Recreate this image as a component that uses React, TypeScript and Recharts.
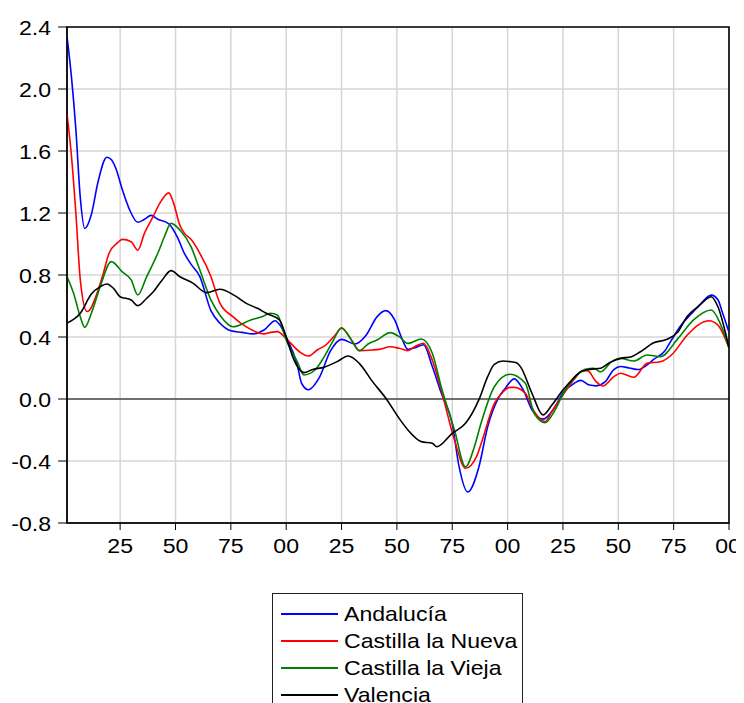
import {
  LineChart,
  Line,
  XAxis,
  YAxis,
  CartesianGrid,
  ReferenceLine,
  ReferenceArea,
} from "recharts";

const andaluciaYears = [
  1701, 1703, 1705, 1707, 1709, 1712, 1715, 1719, 1721, 1723, 1726, 1729, 1733, 1736, 1739, 1742,
  1747, 1751, 1754, 1757, 1761, 1766, 1770, 1775, 1780, 1785, 1790, 1795, 1797, 1800, 1805, 1807,
  1810, 1815, 1820, 1825, 1831, 1836, 1841, 1845, 1849, 1852, 1855, 1858, 1862, 1866, 1870, 1875,
  1878, 1882, 1887, 1891, 1896, 1899, 1903, 1907, 1911, 1916, 1921, 1925, 1930, 1933, 1937, 1940,
  1944, 1948, 1951, 1955, 1959, 1963, 1966, 1971, 1974, 1978, 1983, 1987, 1992, 1995, 1997, 2000,
];
const andaluciaValues = [
  2.34, 2.08, 1.74, 1.3, 1.1, 1.19, 1.4, 1.56, 1.545, 1.49, 1.35, 1.23, 1.14, 1.16, 1.185, 1.16,
  1.13, 1.04, 0.94, 0.87, 0.79, 0.57, 0.49, 0.44, 0.43, 0.42, 0.445, 0.505, 0.48, 0.4, 0.22, 0.1,
  0.06, 0.14, 0.31, 0.385, 0.355, 0.41, 0.53, 0.57, 0.51, 0.4, 0.32, 0.33, 0.35, 0.21, 0.04, -0.16,
  -0.43, -0.6, -0.44, -0.18, 0.01, 0.07, 0.13, 0.06, -0.07, -0.13, -0.06, 0.04, 0.1, 0.12, 0.09, 0.085,
  0.11, 0.19, 0.21, 0.2, 0.19, 0.22, 0.255, 0.31, 0.38, 0.47, 0.55, 0.61, 0.67, 0.64, 0.56, 0.43,
];

const nuevaYears = [
  1701, 1703, 1705, 1707, 1710, 1711, 1714, 1717, 1720, 1724, 1726, 1730, 1733, 1736, 1740, 1743,
  1747, 1749, 1752, 1754, 1757, 1761, 1766, 1770, 1776, 1782, 1790, 1793, 1796, 1800, 1806, 1810,
  1814, 1818, 1822, 1825, 1830, 1833, 1839, 1842, 1847, 1851, 1855, 1858, 1862, 1866, 1870, 1876,
  1881, 1886, 1888, 1894, 1898, 1901, 1903, 1908, 1912, 1917, 1920, 1925, 1931, 1933, 1936, 1940,
  1943, 1948, 1951, 1957, 1963, 1969, 1974, 1981, 1986, 1991, 1995, 2000,
];
const nuevaValues = [
  1.84, 1.57, 1.2, 0.77, 0.565, 0.57, 0.66, 0.79, 0.94, 1.01, 1.03, 1.015, 0.96, 1.07, 1.18, 1.265,
  1.33, 1.27, 1.12, 1.07, 1.03, 0.94, 0.79, 0.62, 0.53, 0.465, 0.42, 0.43, 0.435, 0.39, 0.305, 0.277,
  0.316, 0.35, 0.41, 0.456, 0.37, 0.312, 0.316, 0.32, 0.337, 0.327, 0.312, 0.337, 0.36, 0.25, 0.06, -0.265,
  -0.447, -0.37, -0.29, -0.03, 0.047, 0.075, 0.075, 0.037, -0.08, -0.146, -0.08, 0.026, 0.144, 0.176, 0.183, 0.112,
  0.084, 0.144, 0.166, 0.14, 0.23, 0.24, 0.284, 0.41, 0.477, 0.505, 0.477, 0.33,
];

const viejaYears = [
  1701, 1704, 1707, 1709, 1712, 1716, 1721, 1726, 1730, 1733, 1737, 1742, 1745, 1748, 1752, 1757,
  1761, 1766, 1770, 1776, 1784, 1789, 1793, 1796, 1800, 1805, 1808, 1813, 1817, 1821, 1825, 1829,
  1833, 1837, 1841, 1847, 1851, 1855, 1861, 1866, 1870, 1876, 1881, 1885, 1888, 1894, 1901, 1908,
  1912, 1917, 1921, 1926, 1930, 1935, 1939, 1942, 1947, 1951, 1957, 1963, 1969, 1977, 1984, 1992,
  1996, 2000,
];
const viejaValues = [
  0.79, 0.68, 0.53, 0.462, 0.553, 0.725, 0.886, 0.82, 0.768, 0.671, 0.789, 0.94, 1.047, 1.133, 1.09, 0.983,
  0.832, 0.639, 0.542, 0.466, 0.51, 0.531, 0.553, 0.542, 0.381, 0.241, 0.155, 0.187, 0.269, 0.37, 0.46, 0.391,
  0.312, 0.355, 0.381, 0.428, 0.402, 0.359, 0.387, 0.295, 0.079, -0.2, -0.437, -0.308, -0.157, 0.079, 0.16, 0.101,
  -0.092, -0.153, -0.082, 0.058, 0.133, 0.191, 0.198, 0.176, 0.241, 0.262, 0.245, 0.284, 0.273, 0.391, 0.51, 0.574,
  0.488, 0.33,
];

const valenciaYears = [
  1701, 1707, 1712, 1716, 1719, 1722, 1725, 1730, 1733, 1737, 1740, 1744, 1748, 1752, 1758, 1764,
  1770, 1777, 1782, 1787, 1791, 1797, 1800, 1803, 1806, 1808, 1812, 1817, 1823, 1828, 1833, 1839,
  1845, 1851, 1855, 1861, 1866, 1868, 1875, 1881, 1887, 1891, 1894, 1898, 1901, 1904, 1906, 1911,
  1916, 1920, 1925, 1929, 1933, 1937, 1942, 1946, 1951, 1956, 1960, 1966, 1972, 1977, 1981, 1986,
  1992, 1995, 2000,
];
const valenciaValues = [
  0.49, 0.553, 0.677, 0.725, 0.742, 0.714, 0.66, 0.639, 0.602, 0.65, 0.692, 0.768, 0.828, 0.789, 0.746, 0.686,
  0.708, 0.665, 0.617, 0.585, 0.553, 0.51, 0.4, 0.27, 0.19, 0.17, 0.191, 0.204, 0.241, 0.277, 0.23, 0.112,
  0.005, -0.125, -0.2, -0.275, -0.286, -0.308, -0.221, -0.157, -0.006, 0.144, 0.224, 0.245, 0.241, 0.234, 0.204, 0.037,
  -0.103, -0.039, 0.058, 0.123, 0.176, 0.191, 0.198, 0.234, 0.262, 0.273, 0.305, 0.363, 0.385, 0.434, 0.531, 0.595,
  0.66, 0.595, 0.33,
];

const xTicks = [1725, 1750, 1775, 1800, 1825, 1850, 1875, 1900, 1925, 1950, 1975, 2000];
const yTicks = [-0.8, -0.4, 0, 0.4, 0.8, 1.2, 1.6, 2.0, 2.4];

const toPoints = (years: number[], values: number[]) =>
  years.map((year, i) => ({ year, value: values[i] }));

const series = [
  { name: "Andalucía", color: "#0000ff", data: toPoints(andaluciaYears, andaluciaValues) },
  { name: "Castilla la Nueva", color: "#ff0000", data: toPoints(nuevaYears, nuevaValues) },
  { name: "Castilla la Vieja", color: "#008000", data: toPoints(viejaYears, viejaValues) },
  { name: "Valencia", color: "#000000", data: toPoints(valenciaYears, valenciaValues) },
];

const font = "'Liberation Sans', Arial, sans-serif";

// tick text drawn a bit wider than the font, like the original export
const WideTick = (props: any) => {
  const { x, y, payload, anchor, dy, fmt } = props;
  return (
    <g transform={`translate(${x},${y})`}>
      <text
        transform="scale(1.1,1)"
        textAnchor={anchor}
        dy={dy}
        fill="#000"
        fontSize={21}
        fontFamily={font}
      >
        {fmt(payload.value)}
      </text>
    </g>
  );
};

const fmtYear = (v: number) => String(v % 100).padStart(2, "0");
const fmtValue = (v: number) => v.toFixed(1);

export default function App() {
  return (
    <div style={{ position: "relative", width: 736, height: 695, fontFamily: font, overflow: "hidden" }}>
      <style>{"html{overflow:hidden}"}</style>
      <LineChart width={736} height={560} margin={{ top: 19, right: 15, bottom: 15, left: 0 }}>
        <CartesianGrid stroke="#d6d6d6" strokeWidth={1.5} />
        <XAxis
          type="number"
          dataKey="year"
          domain={[1701, 2000]}
          ticks={xTicks}
          allowDataOverflow
          tick={(p: any) => <WideTick {...p} anchor="middle" dy="0.71em" fmt={fmtYear} />}
          tickSize={7}
          tickMargin={8}
          height={30}
          stroke="#000"
        />
        <YAxis
          type="number"
          domain={[-0.8, 2.4]}
          ticks={yTicks}
          allowDataOverflow
          tick={(p: any) => <WideTick {...p} anchor="end" dy="0.36em" fmt={fmtValue} />}
          tickSize={9}
          tickMargin={7}
          width={59}
          stroke="#000"
        />
        <ReferenceLine y={0} stroke="#000" strokeWidth={1.2} />
        {series.map((s) => (
          <Line
            key={s.name}
            data={s.data}
            dataKey="value"
            name={s.name}
            type="monotone"
            stroke={s.color}
            strokeWidth={1.6}
            dot={false}
            isAnimationActive={false}
          />
        ))}
        <ReferenceArea
          x1={1701}
          x2={2000}
          y1={-0.8}
          y2={2.4}
          fill="none"
          stroke="#000"
          strokeWidth={1.6}
          ifOverflow="visible"
        />
      </LineChart>
      <div
        style={{
          position: "absolute",
          left: 264,
          top: 585,
          width: 251,
          height: 130,
          border: "1px solid #222",
          paddingTop: 6,
          boxSizing: "border-box",
        }}
      >
        {series.map((s) => (
          <div key={s.name} style={{ display: "flex", alignItems: "center", height: 27 }}>
            <div style={{ marginLeft: 8, width: 57, height: 2, flex: "none", background: s.color }} />
            <span
              style={{
                marginLeft: 6,
                fontSize: 21,
                color: "#000",
                lineHeight: "27px",
                whiteSpace: "nowrap",
                display: "inline-block",
                transform: "scaleX(1.1)",
                transformOrigin: "left center",
              }}
            >
              {s.name}
            </span>
          </div>
        ))}
      </div>
    </div>
  );
}
